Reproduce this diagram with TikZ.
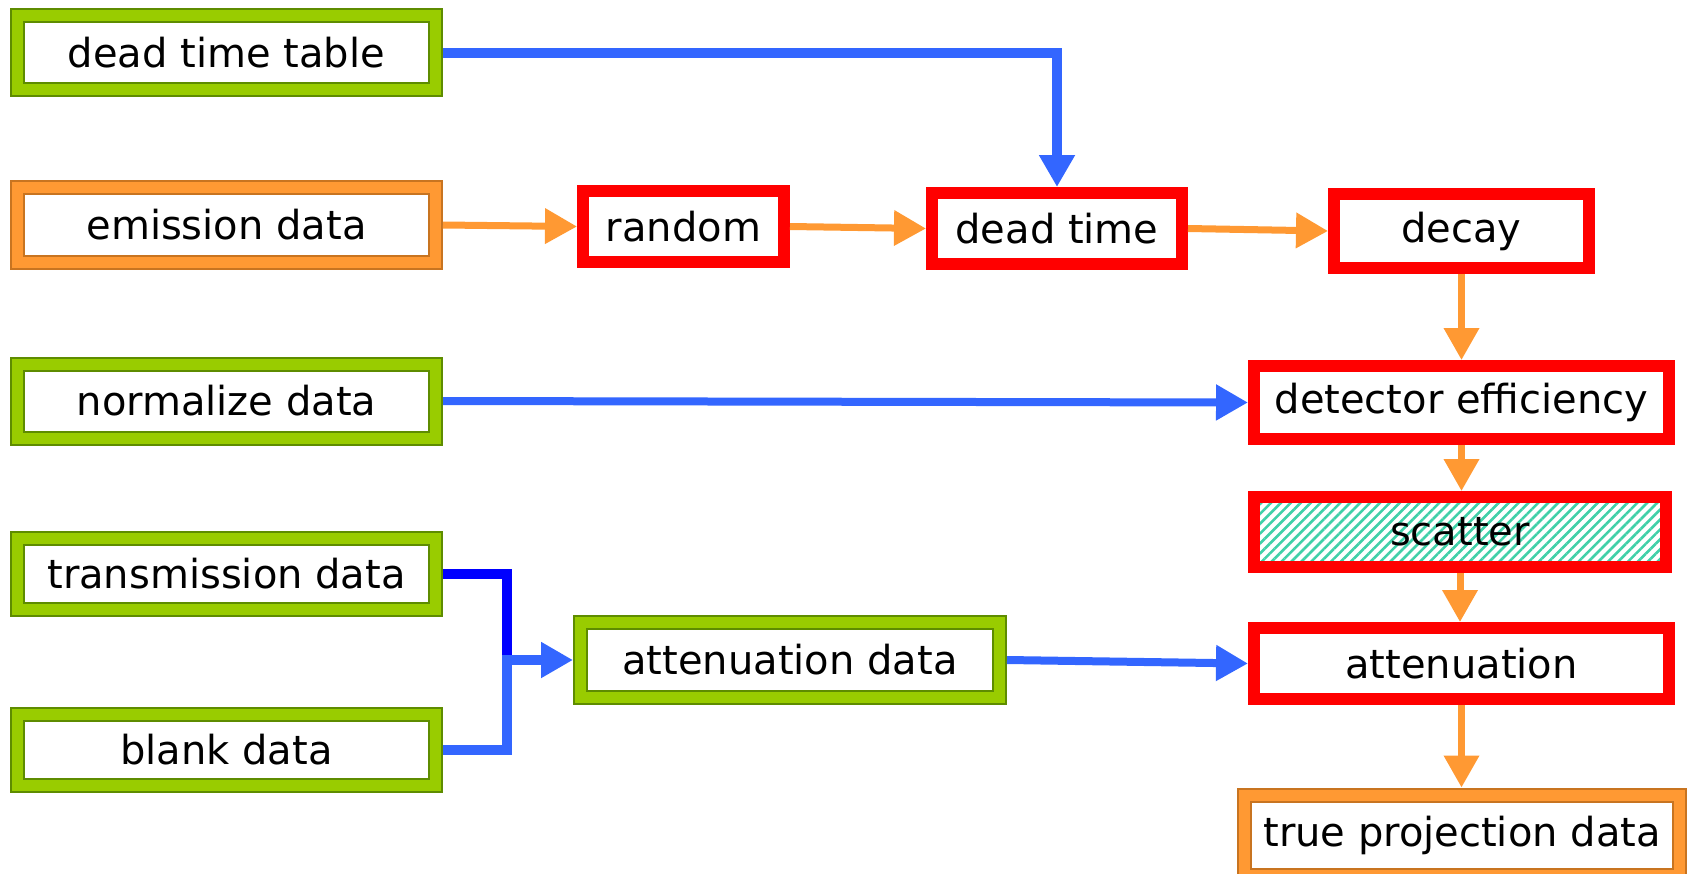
\documentclass[tikz,border=0pt]{standalone}
\usepackage{fontspec}
\setmainfont{DejaVu Sans}
\usetikzlibrary{arrows.meta,patterns.meta}
\definecolor{gmain}{HTML}{99CC00}
\definecolor{gdark}{HTML}{5E8C00}
\definecolor{omain}{HTML}{FF9933}
\definecolor{odark}{HTML}{C87420}
\definecolor{bmain}{HTML}{3366FF}
\definecolor{bdark}{HTML}{0000FF}
\definecolor{rmain}{HTML}{FF0000}
\definecolor{hatchc}{HTML}{40D0A8}
\tikzset{
  box/.style={rectangle, inner sep=0pt, font=\fontsize{40}{48}\selectfont, text=black, align=center},
  gbox/.style={box, fill=white, draw=gdark, line width=2pt, double=gmain, double distance=11pt, outer sep=7.5pt},
  obox/.style={box, fill=white, draw=odark, line width=2pt, double=omain, double distance=11pt, outer sep=7.5pt},
  rbox/.style={box, fill=white, draw=rmain, line width=12pt, outer sep=6pt},
  hbox/.style={box, draw=rmain, line width=12pt, outer sep=6pt,
    preaction={fill=white},
    pattern={Lines[angle=45,distance=7pt,line width=2.6pt]}, pattern color=hatchc},
  tip/.style={-{Triangle[length=32pt,width=34pt]}},
  oarrow/.style={tip, draw=omain, line width=7pt},
  barrow/.style={tip, draw=bmain, line width=8pt},
}
\begin{document}
\begin{tikzpicture}[x=1pt,y=-1pt]
\useasboundingbox (0,0) rectangle (1692,873);
% left column
\node[gbox, minimum width=418pt, minimum height=74pt] (dtt) at (226.5,52.5) {dead time table};
\node[obox, minimum width=418pt, minimum height=75pt] (emis) at (226.5,225) {emission data};
\node[gbox, minimum width=418pt, minimum height=74pt] (norm) at (226.5,401) {normalize data};
\node[gbox, minimum width=418pt, minimum height=71pt] (trans) at (226.5,574) {transmission data};
\node[gbox, minimum width=418pt, minimum height=71pt] (blank) at (226.5,750) {blank data};
\node[gbox, minimum width=419pt, minimum height=75pt] (attd) at (790,660) {attenuation data};
% processing chain
\node[rbox, minimum width=201pt, minimum height=71pt] (rand) at (683.5,226.5) {random};
\node[rbox, minimum width=250pt, minimum height=71pt] (dead) at (1057,228.5) {dead time};
\node[rbox, minimum width=255pt, minimum height=74pt] (decay) at (1461.5,231) {decay};
\node[rbox, minimum width=415pt, minimum height=73pt] (deff) at (1461.5,402.5) {detector efficiency};
\node[hbox, minimum width=412pt, minimum height=70pt] (scat) at (1460,532) {scatter};
\node[rbox, minimum width=415pt, minimum height=71pt] (att) at (1461.5,663.5) {attenuation};
\node[obox, minimum width=435pt, minimum height=80pt] (true) at (1462,835) {true projection data};
\coordinate (J) at (507,660);
\coordinate (Jt) at (507,655);
% connectors
\draw[barrow, line width=10pt] (dtt.east) -| (dead.north);
\draw[oarrow] (emis.east) -- (rand.west);
\draw[oarrow] (rand.east) -- (dead.west);
\draw[oarrow] (dead.east) -- (decay.west);
\draw[oarrow] (decay.south) -- (decay.south |- deff.north);
\draw[barrow] (norm.east) -- (deff.west);
\draw[oarrow] (deff.south) -- (deff.south |- scat.north);
\draw[oarrow] (scat.south) -- (scat.south |- att.north);
\draw[oarrow] (att.south) -- (att.south |- true.north);
\draw[draw=bdark, line width=10pt] (trans.east) -| (Jt);
\draw[draw=bmain, line width=10pt] (blank.east) -| (Jt);
\draw[barrow, line width=10pt] (J) -- (attd.west);
\draw[barrow] (attd.east) -- (att.west);
\end{tikzpicture}
\end{document}
